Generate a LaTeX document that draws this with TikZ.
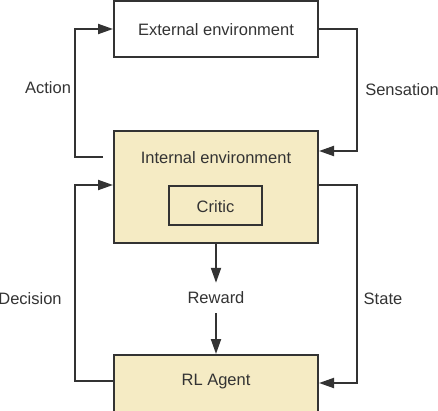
\documentclass[tikz,border=0pt]{standalone}
\usepackage{fontspec}
\setmainfont{Liberation Sans}
\usetikzlibrary{arrows.meta,calc}

\definecolor{linegray}{HTML}{333333}
\definecolor{cream}{HTML}{F5EBC4}

\tikzset{
    box/.style={draw=linegray, line width=2pt, minimum width=204pt, inner sep=0pt},
    txt/.style={text=linegray, font=\fontsize{16.5}{19}\selectfont, inner sep=0pt},
    conn/.style={draw=linegray, line width=2pt},
    arr/.style={conn, -{Triangle[length=15pt,width=10pt]}}
}

\begin{document}
\begin{tikzpicture}[x=1pt,y=-1pt]
        \useasboundingbox (0,0) rectangle (438,410);
        \clip (0,0) rectangle (438,410);
        % boxes
        \node[box, minimum height=56pt] (ext) at (216,29) {};
        \node[txt] (exttxt) at ($(ext.center)+(0,1)$) {External environment};
        \node[box, fill=cream, minimum height=112pt] (int) at (216,187) {};
        \node[txt] (inttxt) at ($(int.north)+(0,28)$) {Internal environment};
        \node[box, fill=cream, minimum width=93pt, minimum height=39pt] (critic) at (215.5,205.5) {};
        \node[txt] (critictxt) at ($(critic.center)+(0,1)$) {Critic};
        \node[box, fill=cream, minimum height=112pt] (agent) at (216,411) {};
        \node[txt] (agenttxt) at ($(agent.north)+(0,28)$) {RL Agent};
        % labels
        \node[txt] (action) at (48,88) {Action};
        \node[txt] (sensation) at (402,90) {Sensation};
        \node[txt] (decision) at (30,299) {Decision};
        \node[txt] (state) at (383,299) {State};
        \node[txt, minimum height=30pt] (reward) at (216,298) {Reward};
        % connectors
        \coordinate (actstart) at ($(int.north west)+(-10,27)$);
        \draw[arr] (actstart) -- ++(-28,0) |- (ext.west);
        \draw[arr] (ext.east) -- ++(38,0) |- ($(int.north east)+(0,21)$);
        \draw[arr] ($(agent.north west)+(0,27)$) -- ++(-38,0) |- ($(int.north west)+(0,55)$);
        \draw[arr] ($(int.north east)+(0,55)$) -- ++(38,0) |- ($(agent.north east)+(0,29)$);
        \draw[arr] (int.south) -- (reward.north);
        \draw[arr] (reward.south) -- (agent.north);
    \end{tikzpicture}
\end{document}
